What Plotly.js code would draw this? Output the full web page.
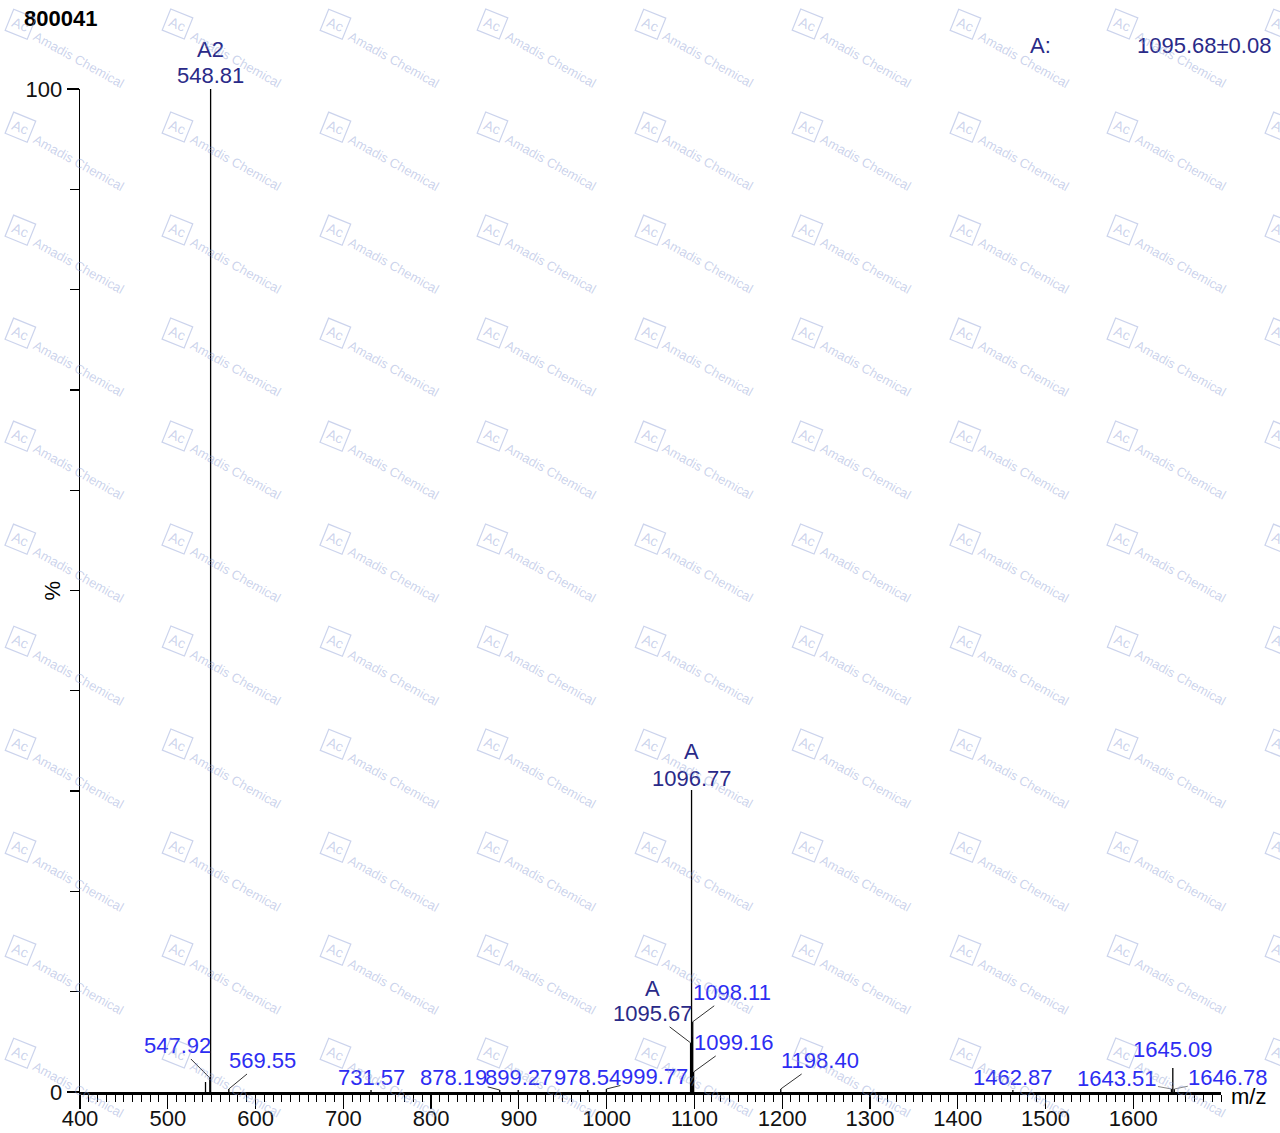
<!DOCTYPE html>
<html>
<head>
<meta charset="utf-8">
<script src="https://cdn.plot.ly/plotly-3.0.1.min.js"></script>
<style>html,body{margin:0;padding:0;background:#fff;}#chart{width:1280px;height:1133px;}</style>
</head>
<body>
<div id="chart"></div>
<script>
// ---- data ----
const peakMz  = [543.0, 547.92, 548.81, 569.55, 731.57, 878.19, 899.27, 978.54, 999.77, 1095.67, 1096.77, 1097.60, 1098.11, 1099.16, 1198.40, 1462.87, 1643.51, 1645.09, 1646.78];
const peakInt = [1.0,   1.4,    100.0,  0.3,    0.2,    0.2,    0.2,    0.2,    0.3,    4.9,     30.1,    5.5,     7.0,     2.0,     0.3,     0.2,     0.3,     2.4,     0.3];

const labelMz   = [548.81, 547.92, 569.55, 731.57, 878.19, 899.27, 978.54, 999.77, 1095.67, 1096.77, 1098.11, 1099.16, 1198.40, 1462.87, 1643.51, 1645.09, 1646.78];
const labelText = ["548.81","547.92","569.55","731.57","878.19","899.27","978.54","999.77","1095.67","1096.77","1098.11","1099.16","1198.40","1462.87","1643.51","1645.09","1646.78"];
const assignMz   = [548.81, 1096.77, 1095.67];
const assignText = ["A2", "A", "A"];

const xTickVals = [400,500,600,700,800,900,1000,1100,1200,1300,1400,1500,1600];
const yTickVals = [0, 100];
const yTickText = ["0", "100"];
const sampleId = "800041";
const resultLabel = "A:";
const resultText = "1095.68\u00b10.08";
const xTitle = "m/z";
const yTitle = "%";
const watermarkText = "Amadis Chemical";
const watermarkLogo = "Ac";

// ---- styles ----
const FONT = "Liberation Sans, Arial, sans-serif";
const LSIZE = 22;
const BLUE = "#2d2df2";
const NAVY = "#2a2a88";
const labelStyle = {
  "548.81": {mode:'t', ys:14, color:NAVY},
  "547.92": {mode:'a', ax:-32, ay:-32, color:BLUE},
  "569.55": {mode:'a', ax:34, ay:-28, color:BLUE},
  "731.57": {mode:'t', ys:12, color:BLUE},
  "878.19": {mode:'a', ax:-46, ay:-12, color:BLUE},
  "899.27": {mode:'t', ys:12, color:BLUE},
  "978.54": {mode:'t', ys:12, color:BLUE},
  "999.77": {mode:'a', ax:48, ay:-12, color:BLUE},
  "1095.67": {mode:'a', ax:-38, ay:-29, color:NAVY},
  "1096.77": {mode:'t', ys:12, color:NAVY},
  "1098.11": {mode:'a', ax:39, ay:-29, color:BLUE},
  "1099.16": {mode:'a', ax:40, ay:-29, color:BLUE},
  "1198.40": {mode:'a', ax:39, ay:-28, color:BLUE},
  "1462.87": {mode:'t', ys:12, color:BLUE},
  "1643.51": {mode:'a', ax:-54, ay:-10, color:BLUE, dash:true},
  "1645.09": {mode:'t', ys:18, color:BLUE},
  "1646.78": {mode:'a', ax:54, ay:-11, color:BLUE, dash:true}
};
const assignStyle = [{xs:0, ys:40}, {xs:0, ys:39}, {xs:-38, ys:54}];

// ---- build stick trace ----
const sx = [], sy = [];
peakMz.forEach((m, i) => { sx.push(m, m, null); sy.push(0, peakInt[i], null); });
const intensityOf = m => peakInt[peakMz.indexOf(m)];

const annotations = [];
labelMz.forEach((m, i) => {
  const st = labelStyle[labelText[i]];
  const h = intensityOf(m);
  if (st.mode === 'a') {
    annotations.push({x:m, y:h, xref:'x', yref:'y', text:labelText[i], showarrow:true,
      ax:st.ax, ay:st.ay, arrowhead:0, arrowwidth:1, arrowcolor: st.dash ? '#888' : '#333',
      standoff:0, startstandoff:0, borderpad:0,
      font:{family:FONT, size:LSIZE, color:st.color}});
  } else {
    annotations.push({x:m, y:h, xref:'x', yref:'y', text:labelText[i], showarrow:false,
      yanchor:'middle', xanchor:'center', yshift:st.ys,
      font:{family:FONT, size:LSIZE, color:st.color}});
  }
});
assignMz.forEach((m, i) => {
  const st = assignStyle[i];
  const h = intensityOf(m);
  annotations.push({x:m, y:h, xref:'x', yref:'y', text:assignText[i], showarrow:false,
    yanchor:'middle', xanchor:'center', xshift:st.xs, yshift:st.ys,
    font:{family:FONT, size:LSIZE, color:NAVY}});
});

// headers / axis titles
annotations.push({xref:'paper', yref:'paper', x:0, y:1, xshift:-20, yshift:71, text:'<b>'+sampleId+'</b>',
  showarrow:false, xanchor:'center', yanchor:'middle', font:{family:FONT, size:22, color:'#000'}});
annotations.push({xref:'paper', yref:'paper', x:(1040-80)/1141, y:1, yshift:44, text:resultLabel,
  showarrow:false, xanchor:'center', yanchor:'middle', font:{family:FONT, size:22, color:NAVY}});
annotations.push({xref:'paper', yref:'paper', x:1, y:1, xshift:52, yshift:44, text:resultText,
  showarrow:false, xanchor:'right', yanchor:'middle', font:{family:FONT, size:22, color:NAVY}});
annotations.push({xref:'paper', yref:'y', x:0, xshift:-28, y:50, text:yTitle, textangle:-90,
  showarrow:false, xanchor:'center', yanchor:'middle', font:{family:FONT, size:22, color:'#000'}});
annotations.push({xref:'paper', yref:'paper', x:1, xshift:27, y:0, yshift:-4, text:xTitle,
  showarrow:false, xanchor:'center', yanchor:'middle', font:{family:FONT, size:22, color:'#000'}});

// watermark grid
const WM = 'rgba(140,158,212,0.45)';
for (let c = 0; c < 9; c++) {
  for (let r = 0; r < 11; r++) {
    const bx = 20 + 157.5*c, by = 24 + 102.9*r;
    annotations.push({xref:'paper', yref:'paper', x:(bx-80)/1141, y:(1092-by)/1003, text:watermarkLogo,
      showarrow:false, xanchor:'center', yanchor:'middle', textangle:22, bordercolor:WM, borderwidth:1.2, borderpad:3,
      font:{family:FONT, size:14, color:WM}});
    annotations.push({xref:'paper', yref:'paper', x:(bx+58-80)/1141, y:(1092-by-36)/1003, text:watermarkText,
      showarrow:false, xanchor:'center', yanchor:'middle', textangle:29,
      font:{family:FONT, size:13, color:WM}});
  }
}

const trace = {x:sx, y:sy, type:'scatter', mode:'lines', line:{color:'#000', width:1.3},
  hoverinfo:'skip', showlegend:false, cliponaxis:false};

const layout = {
  width:1280, height:1133,
  margin:{l:80, r:59, t:89, b:41, pad:0},
  paper_bgcolor:'#fff', plot_bgcolor:'#fff',
  showlegend:false,
  xaxis:{range:[400,1700], tickvals:xTickVals, ticks:'outside', ticklen:14, tickwidth:1.3, tickcolor:'#000',
    ticklabelstandoff:-9,
    showline:true, linecolor:'#000', linewidth:2.5, showgrid:false, zeroline:false,
    tickfont:{family:FONT, size:22, color:'#111'},
    minor:{dtick:10, tick0:400, ticks:'outside', ticklen:7, tickwidth:1, tickcolor:'#000', showgrid:false}},
  yaxis:{range:[0,100], tickvals:yTickVals, ticktext:yTickText, ticks:'outside', ticklen:12, tickwidth:1.3, tickcolor:'#000',
    showline:true, linecolor:'#000', linewidth:1.3, showgrid:false, zeroline:false,
    tickfont:{family:FONT, size:22, color:'#111'},
    minor:{dtick:10, ticks:'outside', ticklen:9, tickwidth:1.3, tickcolor:'#000', showgrid:false}},
  annotations:annotations
};

Plotly.newPlot('chart', [trace], layout, {staticPlot:true, displayModeBar:false});
</script>
</body>
</html>
